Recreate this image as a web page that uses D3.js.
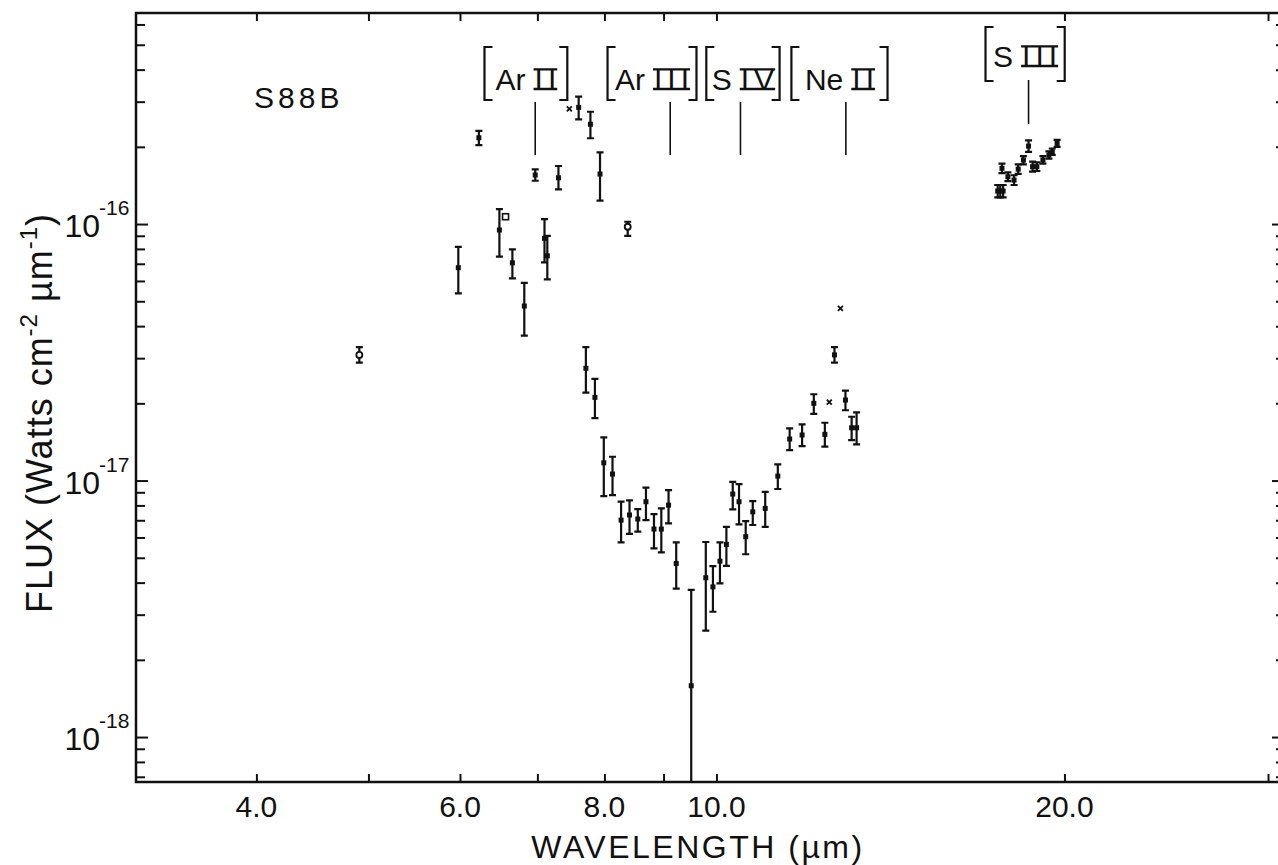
<!DOCTYPE html>
<html>
<head>
<meta charset="utf-8">
<script src="https://cdn.jsdelivr.net/npm/d3@7"></script>
<style>
  html, body { margin: 0; padding: 0; background: #fff; }
  svg text { font-family: "Liberation Sans", Arial, sans-serif; fill: #111; }
</style>
</head>
<body>
<div id="chart"></div>
<script>
(function(){
// wavelength (micron), flux (W cm^-2 um^-1), error bar ends, marker type
const wavelengths = [4.91, 5.98, 6.23, 6.49, 6.57, 6.66, 6.82, 6.97, 7.10, 7.14,
                     7.30, 7.46, 7.60, 7.71, 7.78, 7.85, 7.93, 7.99, 8.13, 8.27,
                     8.38, 8.41, 8.55, 8.69, 8.83, 8.96, 9.09, 9.23, 9.51, 9.79,
                     9.93, 10.07, 10.20, 10.33, 10.46, 10.60, 10.75, 11.02, 11.30, 11.57,
                     11.86, 12.14, 12.41, 12.52, 12.65, 12.80, 12.93, 13.09, 13.22];
const fluxes = [3.09e-17, 6.76e-17, 2.17e-16, 9.48e-17, 1.068e-16, 7.06e-17, 4.79e-17, 1.553e-16, 8.80e-17, 7.52e-17,
                1.515e-16, 2.81e-16, 2.85e-16, 2.74e-17, 2.45e-16, 2.11e-17, 1.567e-16, 1.173e-17, 1.060e-17, 7.01e-18,
                9.76e-17, 7.34e-18, 7.08e-18, 8.27e-18, 6.47e-18, 6.47e-18, 8.02e-18, 4.75e-18, 1.585e-18, 4.18e-18,
                3.85e-18, 4.85e-18, 5.64e-18, 8.86e-18, 8.27e-18, 6.04e-18, 7.55e-18, 7.79e-18, 1.041e-17, 1.452e-17,
                1.505e-17, 2.00e-17, 1.514e-17, 2.02e-17, 3.09e-17, 4.69e-17, 2.06e-17, 1.606e-17, 1.606e-17];
const fluxLow = [2.88e-17, 5.37e-17, 2.03e-16, 7.46e-17, null, 6.14e-17, 3.67e-17, 1.475e-16, 7.09e-17, 6.09e-17,
                 1.366e-16, null, 2.56e-16, 2.20e-17, 2.16e-16, 1.75e-17, 1.233e-16, 8.70e-18, 8.78e-18, 5.74e-18,
                 9.00e-17, 6.20e-18, 6.32e-18, 7.01e-18, 5.44e-18, 5.25e-18, 6.81e-18, 3.79e-18, 1e-19, 2.60e-18,
                 3.08e-18, 3.97e-18, 4.65e-18, 7.72e-18, 6.75e-18, 5.16e-18, 6.71e-18, 6.60e-18, 9.27e-18, 1.315e-17,
                 1.363e-17, 1.82e-17, 1.355e-17, null, 2.88e-17, null, 1.88e-17, 1.438e-17, 1.384e-17];
const fluxHigh = [3.31e-17, 8.15e-17, 2.31e-16, 1.144e-16, null, 7.97e-17, 5.90e-17, 1.634e-16, 1.046e-16, 9.00e-17,
                  1.684e-16, null, 3.14e-16, 3.31e-17, 2.74e-16, 2.49e-17, 1.904e-16, 1.474e-17, 1.238e-17, 8.27e-18,
                  1.021e-16, 8.37e-18, 7.74e-18, 9.38e-18, 7.40e-18, 7.79e-18, 9.18e-18, 5.74e-18, 3.75e-18, 5.76e-18,
                  4.64e-18, 5.74e-18, 6.60e-18, 9.89e-18, 9.69e-18, 6.95e-18, 8.32e-18, 9.04e-18, 1.156e-17, 1.598e-17,
                  1.656e-17, 2.17e-17, 1.68e-17, null, 3.31e-17, null, 2.24e-17, 1.773e-17, 1.844e-17];
const markers = ["circ", "sq", "sq", "sq", "box", "sq", "sq", "sq", "sq", "sq",
                 "sq", "x", "sq", "sq", "sq", "sq", "sq", "sq", "sq", "sq",
                 "circ", "sq", "sq", "sq", "sq", "sq", "sq", "sq", "sq", "sq",
                 "sq", "sq", "sq", "sq", "sq", "sq", "sq", "sq", "sq", "sq",
                 "sq", "sq", "sq", "x", "sq", "x", "sq", "sq", "sq"];

// 20 micron cluster near [S III]
const s3Wavelengths = [17.51, 17.60, 17.66, 17.70, 17.87, 18.09, 18.24, 18.43, 18.62, 18.77, 18.93, 19.16, 19.39, 19.52, 19.71];
const s3Fluxes = [1.345e-16, 1.345e-16, 1.649e-16, 1.345e-16, 1.529e-16, 1.484e-16, 1.638e-16, 1.776e-16, 2.014e-16, 1.673e-16, 1.673e-16, 1.776e-16, 1.858e-16, 1.913e-16, 2.063e-16];
const s3Low = [1.27e-16, 1.27e-16, 1.58e-16, 1.27e-16, 1.47e-16, 1.42e-16, 1.57e-16, 1.71e-16, 1.91e-16, 1.60e-16, 1.61e-16, 1.72e-16, 1.80e-16, 1.86e-16, 2.00e-16];
const s3High = [1.42e-16, 1.42e-16, 1.72e-16, 1.42e-16, 1.59e-16, 1.55e-16, 1.71e-16, 1.84e-16, 2.12e-16, 1.75e-16, 1.74e-16, 1.84e-16, 1.92e-16, 1.97e-16, 2.13e-16];

// spectral line identifications (bracket edges given in micron)
const lineIons = ["Ar", "Ar", "S", "Ne", "S"];
const lineStages = ["II", "III", "IV", "II", "III"];
const lineWavelengths = [6.97, 9.12, 10.49, 12.94, 18.62];
const bracketLeft = [6.30, 8.05, 9.80, 11.61, 17.09];
const bracketRight = [7.43, 9.61, 11.34, 14.06, 20.01];

// axis ticks
const xTicks = [4, 5, 6, 7, 8, 9, 10, 20, 30];
const xTickLabels = [[4, "4.0"], [6, "6.0"], [8, "8.0"], [10, "10.0"], [20, "20.0"]];
const yDecades = [-16, -17, -18];
const yTicks = [7e-19, 8e-19, 9e-19, 1e-18, 2e-18, 3e-18, 4e-18, 5e-18, 6e-18, 7e-18, 8e-18, 9e-18,
                1e-17, 2e-17, 3e-17, 4e-17, 5e-17, 6e-17, 7e-17, 8e-17, 9e-17,
                1e-16, 2e-16, 3e-16, 4e-16, 5e-16, 6e-16];

const width = 1278, height = 865;
const left = 136, right = 1284, top = 13, bottom = 782;

const svg = d3.select("#chart").append("svg")
    .attr("width", width)
    .attr("height", height);

const x = d3.scaleLog().domain([3.147, 30.97]).range([left, right]);
const y = d3.scaleLog().domain([6.68e-19, 6.65e-16]).range([bottom, top]);

svg.append("defs").append("clipPath").attr("id", "plotclip")
    .append("rect").attr("x", left).attr("y", top)
    .attr("width", right - left).attr("height", bottom - top);

// ticks (inside the frame on all four sides)
const isMajor = d => Math.abs(Math.log10(d) - Math.round(Math.log10(d))) < 1e-6;

svg.append("g").attr("transform", `translate(0,${bottom})`)
    .call(d3.axisBottom(x).tickValues(xTicks).tickSize(-8).tickFormat(""))
    .call(g => g.select(".domain").remove());
svg.append("g").attr("transform", `translate(0,${top})`)
    .call(d3.axisTop(x).tickValues(xTicks).tickSize(-8).tickFormat(""))
    .call(g => g.select(".domain").remove());
svg.append("g").attr("transform", `translate(${left},0)`)
    .call(d3.axisLeft(y).tickValues(yTicks).tickSize(-10).tickFormat(""))
    .call(g => g.select(".domain").remove())
    .call(g => g.selectAll(".tick line").attr("x2", d => isMajor(d) ? 12 : 9));
svg.append("g").attr("transform", `translate(${right},0)`)
    .call(d3.axisRight(y).tickValues(yTicks).tickSize(-10).tickFormat(""))
    .call(g => g.select(".domain").remove())
    .call(g => g.selectAll(".tick line").attr("x2", d => isMajor(d) ? -12 : -8));
svg.selectAll(".tick line").attr("stroke", "#111").attr("stroke-width", 2);

// frame
svg.append("rect")
    .attr("x", left).attr("y", top)
    .attr("width", right - left).attr("height", bottom - top)
    .attr("fill", "none").attr("stroke", "#111").attr("stroke-width", 2.5);

// x tick labels
svg.append("g").selectAll("text")
    .data(xTickLabels)
    .join("text")
    .attr("x", d => x(d[0]))
    .attr("y", bottom + 35)
    .attr("text-anchor", "middle")
    .attr("font-size", 30)
    .text(d => d[1]);

// y tick labels: 10 with exponent
const yl = svg.append("g").selectAll("g").data(yDecades).join("g");
yl.append("text")
    .attr("x", 100).attr("y", d => y(Math.pow(10, d)) + 13)
    .attr("text-anchor", "end")
    .attr("font-size", 32)
    .text("10");
yl.append("text")
    .attr("x", 99).attr("y", d => y(Math.pow(10, d)) - 9)
    .attr("font-size", 21)
    .text(d => String(d));

// axis titles
svg.append("text")
    .attr("x", 698).attr("y", 858)
    .attr("text-anchor", "middle")
    .attr("font-size", 32)
    .attr("letter-spacing", 2.5)
    .text("WAVELENGTH (\u00b5m)");

const yt = svg.append("text")
    .attr("transform", "translate(52,413) rotate(-90)")
    .attr("text-anchor", "middle")
    .attr("font-size", 36)
    .attr("letter-spacing", 1);
yt.append("tspan").text("FLUX (Watts cm");
yt.append("tspan").attr("dy", -15).attr("font-size", 24).text("-2");
yt.append("tspan").attr("dy", 15).text(" \u00b5m");
yt.append("tspan").attr("dy", -15).attr("font-size", 24).text("-1");
yt.append("tspan").attr("dy", 15).text(")");

// source name
svg.append("text")
    .attr("x", 254).attr("y", 108)
    .attr("font-size", 30)
    .attr("letter-spacing", 4)
    .text("S88B");

// line identifications: bracketed labels and tick marks
const lineData = lineIons.map((ion, i) => ({
    ion, stage: lineStages[i], wl: lineWavelengths[i],
    l: bracketLeft[i], r: bracketRight[i], high: i === 4
}));
const bTop = d => d.high ? 27 : 47;
const bBot = d => d.high ? 81 : 100;
const base = d => d.high ? 67 : 90;
const labelSize = 30, numSpacing = 5, gap = 9;

const lg = svg.append("g").selectAll("g").data(lineData).join("g");
lg.append("path")
    .attr("fill", "none").attr("stroke", "#111").attr("stroke-width", 2.2)
    .attr("d", d => {
        const xl = x(d.l), xr = x(d.r);
        return `M${xl + 8},${bTop(d)}H${xl}V${bBot(d)}H${xl + 8}` +
               `M${xr - 8},${bTop(d)}H${xr}V${bBot(d)}H${xr - 8}`;
    });
lg.each(function(d) {
    const g = d3.select(this);
    const cx = (x(d.l) + x(d.r)) / 2;
    const t1 = g.append("text").attr("y", base(d)).attr("font-size", labelSize).text(d.ion);
    const t2 = g.append("text").attr("y", base(d)).attr("font-size", labelSize)
        .attr("letter-spacing", numSpacing).text(d.stage);
    const w1 = t1.node().getComputedTextLength();
    const w2 = t2.node().getComputedTextLength() - numSpacing;
    const x0 = cx - (w1 + gap + w2) / 2;
    t1.attr("x", x0);
    t2.attr("x", x0 + w1 + gap);
    // serif bars of the roman numeral
    const nx0 = x0 + w1 + gap - 1, nx1 = x0 + w1 + gap + w2 + 1;
    const capTop = base(d) - 0.72 * labelSize;
    g.append("path")
        .attr("stroke", "#111").attr("stroke-width", 2.4).attr("fill", "none")
        .attr("d", `M${nx0},${capTop + 1}H${nx1}M${nx0},${base(d) - 1}H${nx1}`);
});
lg.append("line")
    .attr("x1", d => x(d.wl)).attr("x2", d => x(d.wl))
    .attr("y1", d => d.high ? 80 : 102)
    .attr("y2", d => d.high ? 124 : 155)
    .attr("stroke", "#111").attr("stroke-width", 1.6);

// data points with error bars
const points = wavelengths.map((w, i) => ({ w, f: fluxes[i], lo: fluxLow[i], hi: fluxHigh[i], m: markers[i] }))
    .concat(s3Wavelengths.map((w, i) => ({ w, f: s3Fluxes[i], lo: s3Low[i], hi: s3High[i], m: "sq" })));

const pg = svg.append("g").attr("clip-path", "url(#plotclip)")
    .selectAll("g").data(points).join("g")
    .attr("transform", d => `translate(${x(d.w)},${y(d.f)})`);

const bars = pg.filter(d => d.lo !== null);
bars.append("path")
    .attr("fill", "none").attr("stroke", "#111").attr("stroke-width", 2.2)
    .attr("d", d => {
        const y0 = y(d.hi) - y(d.f), y1 = y(d.lo) - y(d.f);
        return `M0,${y0}V${y1}M-3.5,${y0}H3.5M-3.5,${y1}H3.5`;
    });

pg.filter(d => d.m === "sq").append("rect")
    .attr("x", -2.5).attr("y", -2.5).attr("width", 5).attr("height", 5)
    .attr("fill", "#111");
pg.filter(d => d.m === "circ").append("circle")
    .attr("r", 3).attr("fill", "#fff").attr("stroke", "#111").attr("stroke-width", 1.8);
pg.filter(d => d.m === "box").append("rect")
    .attr("x", -3).attr("y", -3).attr("width", 6).attr("height", 6)
    .attr("fill", "#fff").attr("stroke", "#111").attr("stroke-width", 1.6);
pg.filter(d => d.m === "x").append("path")
    .attr("stroke", "#111").attr("stroke-width", 1.8)
    .attr("d", "M-2.5,-2.5L2.5,2.5M-2.5,2.5L2.5,-2.5");

})();
</script>
</body>
</html>
